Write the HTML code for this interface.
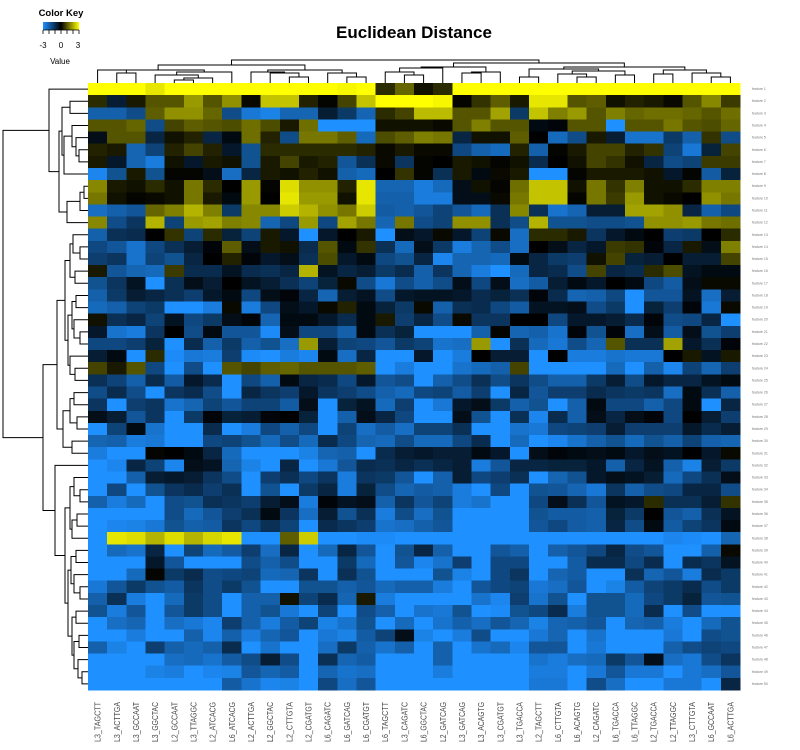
<!DOCTYPE html>
<html><head><meta charset="utf-8"><style>
html,body{margin:0;padding:0;background:#fff}
svg{display:block;font-family:"Liberation Sans",sans-serif}
</style></head><body>
<svg id="chart" width="800" height="750" viewBox="0 0 800 750" xmlns="http://www.w3.org/2000/svg">
<rect x="0" y="0" width="800" height="750" fill="#fff"/>
<text x="414" y="38" font-size="17" font-weight="bold" text-anchor="middle" fill="#000">Euclidean Distance</text>
<g>
<defs><linearGradient id="kg" x1="0" x2="1" y1="0" y2="0"><stop offset="0" stop-color="#1E90FF"/><stop offset="0.5" stop-color="#000"/><stop offset="1" stop-color="#FFFF00"/></linearGradient></defs>
<text x="61" y="16" font-size="9.5" font-weight="bold" text-anchor="middle">Color Key</text>
<rect x="43" y="22" width="36" height="8" fill="url(#kg)"/>
<path d="M43,30v4M49,30v4M55,30v4M61,30v4M67,30v4M73,30v4M79,30v4M43,30H79" stroke="#000" stroke-width="0.8"/>
<text x="43" y="48" font-size="8" text-anchor="middle">-3</text>
<text x="61" y="48" font-size="8" text-anchor="middle">0</text>
<text x="78" y="48" font-size="8" text-anchor="middle">3</text>
<text x="60" y="64" font-size="8" text-anchor="middle">Value</text>
</g>
<g id="cells"></g>
<g id="rdend"></g>
<g id="cdend"></g>
<g id="clabels"></g>
<g id="rlabels"></g>
</svg>
<script>
const colLabels=["L3_TAGCTT","L3_ACTTGA","L3_GCCAAT","L3_GGCTAC","L2_GCCAAT","L3_TTAGGC","L2_ATCACG","L6_ATCACG","L2_ACTTGA","L2_GGCTAC","L2_CTTGTA","L2_CGATGT","L6_CAGATC","L6_GATCAG","L6_CGATGT","L6_TAGCTT","L3_CAGATC","L6_GGCTAC","L2_GATCAG","L3_GATCAG","L3_ACAGTG","L3_CGATGT","L3_TGACCA","L2_TAGCTT","L6_CTTGTA","L6_ACAGTG","L2_CAGATC","L6_TGACCA","L6_TTAGGC","L2_TGACCA","L2_TTAGGC","L3_CTTGTA","L6_GCCAAT","L6_ACTTGA"];
const values=[
[3,3,3,2.7,3,3,3,3,3,3,3,3,3,2.9,3,0.5,1.2,0.2,0.5,3,3,3,3,3,3,3,3,3,3,3,3,3,3,3],
[0.5,-0.6,0.3,1,1,1.8,1,1.7,0.1,2.3,2.3,0.4,0.05,0.8,2.3,3,3,3,2.9,0.05,0.6,1.1,0.3,2.7,2.7,1,1.1,0.2,0.4,0.3,0.1,1,1.6,0.7],
[-2,-2,-1.6,1.1,1.7,1.7,1.2,-1.6,-2.5,-2.7,-2.1,-2.1,-0.6,-1.2,-2.1,0.5,0.8,2.2,2.2,1,1,1.9,-1.2,2.3,1.5,1.8,1,1.5,1.2,1.3,1.3,1.2,1,1.3],
[1,1,1.2,-1.6,0.8,1.1,1,0.9,1.3,0.9,0.3,1.3,-3,-3,-3,0.2,0.2,0.2,0.1,1,1.5,1,1,-0.2,-0.1,1,1,-3,1,1,1.4,1,0.9,1.2],
[-0.3,1,1,-0.8,0.2,0.4,-0.8,-0.2,1.3,0.4,-1.6,1.4,1.4,1.1,-2.2,0.9,1.1,1.5,1.4,-0.8,0.2,0.2,1.1,0,-2.2,-1.6,0.3,-0.6,-2.4,-2.4,-1.2,-2,0.6,-1.6],
[0.4,0.3,-2.1,-1.4,0.4,0.8,0.4,-0.5,-1.7,0.5,0.5,0.5,0.5,0.5,0.4,0.1,0.3,0.1,0.1,-1.5,-2,-2.2,0.4,-2,0.05,0.3,0.8,0.8,0.4,0.6,-1.4,-2.5,-0.7,0.8],
[0.3,-0.5,-2.1,-2.6,0.2,-0.5,0.3,0.2,-1.7,0.3,0.8,0.3,0.4,-1.8,-1,0.1,-1.1,0.05,0,0.3,0.2,0.05,0.2,-0.9,0,0.2,0.8,0.6,0.2,-0.8,-1.6,-1.4,0.7,0.7],
[-2.8,-1.7,0.3,-1.7,0.05,0.05,-0.3,-2.3,-0.8,0.3,0.2,0.4,0.2,-2,-2.2,0,0.6,0.05,-1,0.3,-0.2,0.1,0.3,-3,-3,0.05,0.3,0.3,0.3,0.2,-0.5,0.05,-1.9,-0.7],
[1.6,0.3,0.2,0.5,0.2,1.4,0.5,0,1.8,0.05,2.6,1.7,1.7,0.4,2.7,-2.1,-2.1,-2.6,-2.2,-0.3,0.2,0.05,1.3,2.3,2.3,0.2,1.4,0.6,1.5,0.2,0.2,0.5,1.5,1.5],
[1.4,0.2,0.05,0.1,0.2,1.4,0.3,-0.2,1.8,0,2.7,1.8,1.8,0.2,2.7,-2,-2,-2.6,-2.6,-0.3,-0.3,0.1,1.4,2.3,2.3,0.05,1.4,0.7,1.8,0.2,0.1,0,1.7,1.4],
[-2.3,-2,-1.8,1.2,1.5,2.1,1.5,-1.2,1.6,1.6,2.4,2.1,1.7,1.4,2.4,-1.9,-2,-1.8,-1.4,-1.8,-2.2,-1,1.6,-1,-2.4,-2.1,-0.6,-0.6,1.9,1.9,1.7,-0.8,-2,-1.5],
[1.6,-1.6,-1.1,2.1,-1.4,1.8,1.9,1.5,1.6,-2.1,-1.5,1.8,-1.5,1.9,1.4,-2.1,1.4,-1.6,-1.4,1.7,1.7,-1,-1.6,2.1,-1.7,-1.7,-1.6,-1.6,-1.7,1.7,1.7,1.8,1.4,1.3],
[-2,-1,-0.9,0,0.6,-1.4,0.5,-0.7,-1.4,0.3,-0.5,-3,-0.5,0,0.3,-3,-0.3,-0.5,0.1,-0.5,-1.4,0.1,-2.3,0.5,0.5,0.3,-1.1,-0.5,-0.2,0,-1.3,-1.2,0,0.5],
[-1.5,-1.8,-2.4,-1.5,-1,-0.6,-0.1,1.1,-0.3,0.3,0.2,-0.9,1,-0.2,0.6,-1,-2.2,-0.3,-1.2,-2.6,-2.1,-1.6,-2.3,0,-0.3,-0.8,-0.5,0.7,0.6,-0.1,-0.8,0.3,-0.3,1.5],
[-1.3,-1.1,-2.4,-1.4,-1.7,-0.8,0,0.4,-0.1,-0.5,-0.3,-1,0.9,-0.5,-0.2,-1.5,-1.7,-0.8,-2.8,-2.1,-2.1,-2.2,-0.2,-0.8,-1.2,-1.3,0.2,0.8,-0.7,-0.6,0,-0.6,-0.6,0.8],
[0.3,-1.8,-2.1,-2.2,0.7,-0.9,-0.9,-0.4,-0.9,-1,-0.8,2.1,-0.4,-0.8,-0.6,-1.2,-0.9,-2,-1.1,-2.1,-2.6,-3,-2.2,-0.8,-0.9,-1.6,0.8,-0.8,-0.9,0.5,0.9,-0.4,-0.2,-0.2],
[-1.7,-1.1,-0.4,-3,-1,-0.3,-0.6,0,-0.4,-0.6,-1,-1.4,-0.7,0.1,-1.6,-2.5,-1.6,-2,-1.6,-0.3,-1.5,-0.3,-2.3,-1.9,-0.6,-0.2,-0.5,0,-0.2,-1.5,-1.9,-0.3,0.1,0.1],
[-2,-1.2,-0.6,-0.8,-1,-1.3,-0.5,-0.2,-1.5,-0.3,-0.1,-0.8,-2.1,-0.6,-0.4,-1.6,-0.5,-0.4,-0.4,-0.5,-0.9,-0.7,-1,-0.1,-0.9,-2.1,-2,-1.5,-3,-1.8,-1.8,-0.4,-2.3,-0.6],
[-2.2,-2,-1.4,-1.2,-3,-3,-2.6,0.1,-2.6,-1.5,-0.3,-0.5,0.1,0.4,-0.2,-0.7,-1.2,0.1,-2,-1,-0.9,-1.5,-1.9,-0.4,-0.4,-0.3,-1.6,-1.2,-3,-0.7,-1.3,-0.1,-2.5,0.1],
[0.2,-1,-0.8,-1.4,-0.4,-1.5,-1.2,-0.3,-0.1,-2.1,-0.2,-0.2,-0.5,-0.9,-0.2,0.3,-1.3,-0.8,-1.6,0.1,-1.1,-1.1,0,0,-1.5,-0.5,-0.5,-0.6,-0.9,-0.1,-1.6,-1.5,-0.8,-3],
[-0.5,-2.4,-2.6,-1.1,0,-1.6,-0.2,-1.8,-1.8,-2.9,-0.3,-1.5,-1.5,-2,-0.2,-1,-0.7,-3,-3,-3,-2,0.05,-2.1,-2,-2.4,-0.1,-1.7,-0.1,-2.3,-0.3,-1.9,-0.3,-1.7,-1.3],
[-1.5,-1.5,-1.3,-0.7,-3,-0.9,-2,-1.2,-2,-1.7,-2.3,1.8,-0.6,-1.4,-1.5,-1.8,-1.2,-1.4,-2.4,-2.3,1.8,-3,-1,-2.2,-2.5,-1.6,-2.1,1,-1,-1,1.9,-0.5,-1,-0.1],
[-0.6,-0.2,-3,0.5,-2.9,-2.5,-2.6,-1.3,-2.9,-3,-2.6,-2.8,-0.2,-2.3,-0.8,-3,-3,-0.5,-3,-2.6,0,-0.6,-0.6,-3,0,-2.6,-2.6,-2.4,-2.5,-2.5,0,0.3,-0.4,0.3],
[0.8,0.3,1,-1.5,-3,-1.6,-3,1,0.8,1.1,1.2,1,1,1,1.1,-3,-2.6,-3,-3,-2.4,-2.2,-2,0.8,-3,-3,-3,-3,-2.2,-3,-2,-2.8,-1.4,-2.1,-1.3],
[-1,-1.4,-2,-0.9,-1.9,-0.5,-0.9,-3,-1.5,-2,-0.2,-0.8,-0.9,-1.5,-0.5,-1.8,-1.6,-3,-2,-1.6,-1,-1.6,-1.1,-1.6,-2,-2,-1.2,-0.6,-1.6,-0.5,-0.8,-0.8,-0.4,-0.2],
[-1.6,-0.9,-1.6,-3,-1.1,-0.9,-1.6,-3,-0.8,-1.1,-1.3,-0.5,-1.1,-1.3,-1.6,-2,-2.2,-1.5,-1.4,-1.9,-1.3,-3,-0.8,-1.8,-1.3,-1.3,-0.9,-1.1,-1.2,-1.1,-2.3,-0.2,-1,-2],
[-1.1,-3,-1.3,-1.1,-2.4,-2.1,-1.4,-1.8,-1.4,-1.4,-1.9,-0.3,-3,-0.7,-0.4,-2.2,-1.3,-3,-2.5,-0.5,-0.3,-1.2,-2,-1.7,-3,-2,-0.2,-1.5,-1.5,-2,-1.5,-0.2,-3,-0.8],
[-0.3,-0.6,-1.8,-1.1,-3,-1.2,-0.1,-0.7,-0.6,-0.1,0,-0.7,-3,-2,-0.3,-0.8,-1.5,-3,-3,-0.3,-1.7,-3,-1,-2.8,-0.9,-2,-0.3,-0.8,-0.3,-0.1,-1.5,0,-0.6,-1.3],
[-3,-1.4,-0.2,-2.4,-3,-3,-0.9,-3,-2.6,-1.5,-2,-1.5,-3,-1.4,-2.3,-1.9,-2.3,-1.4,-1.4,-1,-3,-3,-2.4,-2.5,-1.5,-1.4,-1.3,-0.6,-1.3,-1.3,-1.3,-0.5,-0.9,-0.6],
[-2.1,-2,-2.6,-2.5,-3,-3,-1.5,-1.4,-1.7,-2.2,-1.6,-2.2,-0.9,-1.5,-2.1,-2.2,-1.6,-2.2,-2.2,-1.5,-0.9,-3,-2.2,-3,-2.8,-2.4,-2,-1.7,-2.2,-1.7,-2,-1.4,-2,-2.1],
[-2.6,-3,-3,0.05,0,-0.2,-0.8,-2.2,-3,-3,-3,-2.7,-2.1,-2,-3,-0.9,-0.6,-0.5,-0.6,-0.6,-0.2,-0.5,-3,-0.3,-0.1,-0.2,-0.3,-0.2,-0.5,-0.3,-0.4,0,-0.5,0.1],
[-3,-2.8,-0.8,-1.4,-2.8,-0.3,-0.4,-2.1,-2.7,-3,-0.8,-3,-2.5,-1.8,-0.9,-1,-0.8,-1,-0.8,-0.6,-2.6,-1.8,-0.8,-0.8,-0.7,-0.7,-0.5,-2,-0.8,-0.4,-2,-2.7,-0.6,-1.2],
[-3,-3,-2,-0.6,-0.5,-0.6,-1.1,-1.6,-3,-1.3,-1,-1.5,-1.1,-2.6,-1.1,-1.2,-1.8,-3,-2,-0.6,-1.5,-1.3,-1,-3,-2.1,-1.7,-0.5,-0.3,-0.4,-0.6,-2.2,-1.5,-1,-0.3],
[-3,-1.5,-3,-1.7,-1.1,-0.9,-1.3,-1,-3,-1.7,-3,-1.2,-0.8,-2.6,-0.7,-1.6,-2.1,-1.9,-2,-2.6,-3,-1.5,-3,-1.7,-1.8,-2.1,-2.5,-1.1,-2,-1.6,-1.5,-0.8,-0.8,-1.6],
[-2,-2.6,-2.2,-3,-1.6,-1.7,-1,-1.1,-1.3,-0.6,-0.3,-2.6,-0.1,-0.4,-0.3,-2,-1.1,-1.8,-1.4,-2.6,-2.4,-3,-3,-1.5,-0.3,-1,-1.8,-0.4,-0.5,0.5,-1,-1,-0.6,0.6],
[-3,-3,-3,-3,-1.6,-2.2,-1.8,-1.3,-1,-0.2,-1.1,-2.3,-0.6,-1.7,-1,-2.6,-1.6,-2.3,-1.7,-3,-3,-3,-3,-1.7,-1.9,-1.9,-2,-0.7,-1.2,0,-1.8,-2,-1,-0.4],
[-3,-2.8,-2.7,-2.5,-1.7,-2,-1.9,-1.1,-1.5,-1,-1.4,-3,-0.9,-1.1,-1.3,-2.4,-2.3,-2,-1.8,-3,-3,-3,-3,-1.8,-1.5,-1.9,-2,-0.8,-1.6,-0.2,-1.9,-1.4,-1.1,-0.2],
[-3,2.7,2.6,2.1,2.6,2.1,2.5,2.7,-3,-3,1.1,2.4,-3,-3,-2.9,-2.9,-3,-3,-3,-3,-3,-3,-3,-3,-3,-3,-3,-3,-3,-3,-2.8,-2.9,-3,-2.1],
[-3,-2.2,-2.4,-0.8,-3,-1.4,-2.2,-1.9,-1.3,-2.3,-0.8,-3,-2.2,-0.8,-1.8,-3,-1.7,-0.8,-2,-3,-3,-1.8,-2,-3,-2,-1.8,-1.5,-0.8,-1.6,-1.8,-3,-3,-2,0.1],
[-3,-3,-3,-0.5,-1.8,-3,-3,-3,-1.6,-2,-1.6,-3,-3,-1.2,-2.2,-3,-1.8,-2.8,-2.4,-1.3,-3,-1.5,-1.5,-3,-3,-1.9,-0.9,-0.9,-1.5,-0.9,-3,-0.9,-1.1,-0.4],
[-3,-3,-2.2,0.05,-1.2,-0.9,-1.6,-1.5,-1.4,-2.2,-2.1,-1.1,-3,-1,-1.7,-3,-3,-3,-1.7,-2.7,-3,-1.5,-1.1,-3,-2.1,-1.9,-3,-3,-1,-2.1,-1.8,-2.6,-0.9,-1.2],
[-2.5,-1.8,-1.2,-1.7,-1.9,-1.1,-1.6,-1.2,-1.7,-3,-3,-1.7,-1.7,-2,-1.8,-2.2,-2,-2,-2.6,-3,-1.8,-1.5,-1.4,-2.5,-2.3,-1.8,-3,-2.7,-1.9,-1.4,-1.2,-0.9,-1.6,-1.2],
[-2,-1,-2.6,-3,-2.2,-1.2,-1.6,-3,-2,-2,0.2,-1.4,-0.9,-2.1,0.3,-2.6,-3,-3,-3,-3,-2.4,-2.8,-1.3,-2.4,-1.7,-3,-1.7,-1.7,-2.2,-1.5,-1.2,-0.7,-1.8,-1.7],
[-1.7,-2.6,-1.8,-3,-1.8,-1.2,-1.6,-3,-2,-1.7,-2.5,-3,-1.4,-3,-1.6,-2,-3,-2.4,-2.5,-1.7,-3,-2.9,-1.7,-1.5,-0.9,-2.6,-1.7,-1.7,-2.2,-0.9,-3,-1.6,-3,-3],
[-3,-2.3,-2.1,-3,-2.3,-2.5,-2.8,-1.3,-2,-2.6,-1.9,-1.4,-2.7,-2.4,-1.7,-3,-2.2,-3,-2.4,-2,-2.3,-1.8,-2.1,-2.7,-2.1,-2,-1.8,-3,-2.1,-2,-2.6,-3,-2.2,-1.7],
[-3,-3,-2.6,-3,-3,-2,-2.8,-2,-2.6,-2.1,-1.8,-3,-2.5,-2.7,-1.9,-1.4,-0.3,-2.7,-3,-2.6,-1.6,-3,-3,-2.5,-2.1,-3,-2.4,-3,-3,-3,-2.5,-3,-1.6,-1.7],
[-2,-2.7,-3,-1.3,-2,-2.2,-2,-0.9,-3,-2.4,-3,-3,-2.3,-1.2,-2,-2.4,-2,-3,-2,-3,-2.4,-2.2,-2.8,-1.8,-1.8,-3,-2.5,-3,-3,-3,-2,-1.6,-1.4,-1.5],
[-3,-3,-3,-3,-2.3,-2.2,-2.4,-1.9,-1.6,-0.6,-1.6,-3,-1,-2.1,-1.9,-3,-3,-3,-2,-3,-3,-3,-3,-2.4,-2.6,-2.3,-2.2,-1.2,-1.8,-0.3,-2.3,-2.5,-1.6,-1.1],
[-3,-3,-3,-2.7,-2.6,-3,-2.8,-2.7,-1.8,-2.1,-1.9,-3,-2.1,-2.4,-2.3,-3,-3,-3,-2.6,-3,-3,-3,-3,-2.6,-2.6,-3,-2.5,-1.8,-2.5,-2.5,-3,-2.5,-2.3,-1.8],
[-3,-3,-3,-3,-3,-3,-3,-1.9,-2.4,-2.8,-2.7,-3,-1.5,-2.3,-1.8,-3,-3,-3,-3,-3,-3,-3,-3,-2.5,-2.5,-3,-1.6,-2.3,-3,-3,-2.5,-2.5,-3,-0.8]
];
const rowTree=[3,[49,1,[59,[62,[70,2,3],[64,[72,4,[76,5,[79,6,7]]],8]],[67,[80,[84,9,10],11],12]]],
 [43,[57,[65,[70,[73,13,[80,14,15]],[75,16,17]],[68,[72,[76,18,19],[74,20,[80,21,22]]],[70,23,[75,24,25]]]],[63,[70,[74,26,27],[77,28,29]],[72,30,31]]],
 [55,32,[65,[70,[74,33,[80,34,35]],[72,[77,36,37],38]],[68,[71,[76,39,40],[74,41,[80,42,43]]],[72,[76,44,45],[74,[79,46,47],[78,48,[82,49,50]]]]]]]]];
const colTree=[60,[65,[70,[70,1,[73,2,3]],[72,[75,4,[78,[80,5,6],7]],8]],[70,[72,9,[73,10,[77,11,12]]],[73,13,[77,14,15]]]],
 [63,[67,[68,[72,16,[75,17,18]],19],[72,[73,20,21],22]],[67,[69,[77,23,24],[71,[74,25,[77,26,27]],[75,28,29]]],[70,[74,30,31],[73,32,[77,33,34]]]]]];
const rowLabels=values.map((_,i)=>"feature "+(i+1));

const NS="http://www.w3.org/2000/svg";
const X0=88,X1=740,Y0=83,Y1=690;
const nC=colLabels.length,nR=values.length;
const cw=(X1-X0)/nC,rh=(Y1-Y0)/nR;
const xCol=i=>X0+i*cw, yRow=j=>Y0+j*rh;
function color(v){v=Math.max(-3,Math.min(3,v));const t=Math.abs(v)/3;
 if(v<0)return `rgb(${Math.round(30*t)},${Math.round(144*t)},${Math.round(255*t)})`;
 return `rgb(${Math.round(255*t)},${Math.round(255*t)},0)`;}
function mk(tag,attrs,parent){const e=document.createElementNS(NS,tag);for(const k in attrs)e.setAttribute(k,attrs[k]);parent.appendChild(e);return e;}
const cells=document.getElementById('cells');
values.forEach((row,j)=>row.forEach((v,i)=>{
 const r=mk('rect',{x:xCol(i),y:yRow(j),width:cw+0.4,height:rh+0.4,fill:color(v),'shape-rendering':'crispEdges'},cells);
 
 
}));
const cl=document.getElementById('clabels');
colLabels.forEach((s,i)=>{const cx=xCol(i)+cw/2+3;
 const t=mk('text',{x:cx,y:742,transform:`rotate(-90 ${cx} 742)`,'text-anchor':'start','font-size':'8',fill:'#444',textLength:'40',lengthAdjust:'spacingAndGlyphs'},cl);t.textContent=s;
 
 
});
const rl=document.getElementById('rlabels');
rowLabels.forEach((s,j)=>{const t=mk('text',{x:752,y:yRow(j)+rh/2+1,'font-size':'3.5',fill:'#777'},rl);t.textContent=s;
 
 
});
function drawRow(n,g){
 if(typeof n==='number')return [yRow(n-1)+rh/2,X0];
 const a=drawRow(n[1],g),b=drawRow(n[2],g),x=n[0];
 mk('path',{d:`M${a[1]},${a[0]}H${x}V${b[0]}H${b[1]}`,fill:'none',stroke:'#000','stroke-width':'1'},g);
 return [(a[0]+b[0])/2,x];}
function drawCol(n,g){
 if(typeof n==='number')return [xCol(n-1)+cw/2,Y0];
 const a=drawCol(n[1],g),b=drawCol(n[2],g),y=n[0];
 mk('path',{d:`M${a[0]},${a[1]}V${y}H${b[0]}V${b[1]}`,fill:'none',stroke:'#000','stroke-width':'1'},g);
 return [(a[0]+b[0])/2,y];}
drawRow(rowTree,document.getElementById('rdend'));
drawCol(colTree,document.getElementById('cdend'));
</script>
</body></html>
